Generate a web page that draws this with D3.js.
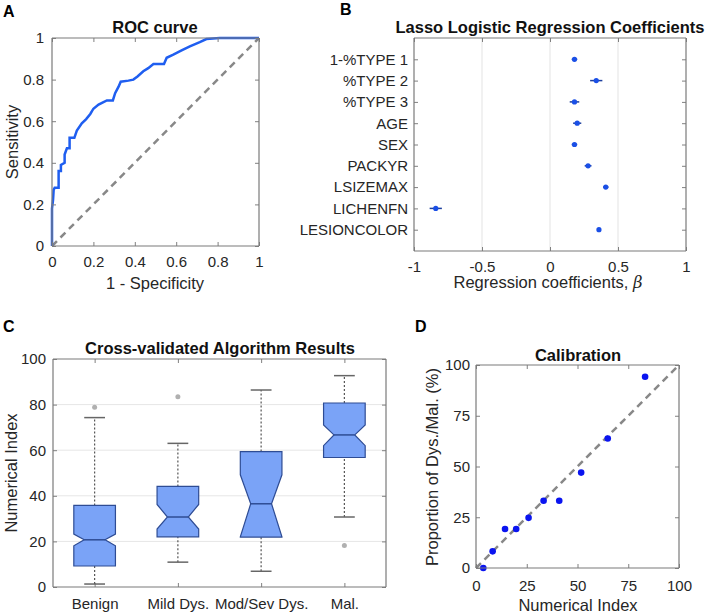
<!DOCTYPE html>
<html>
<head>
<meta charset="utf-8">
<script src="https://cdn.jsdelivr.net/npm/d3@7"></script>
<style>
  body { margin: 0; background: #fff; }
</style>
</head>
<body>
<svg width="709" height="615"></svg>
<script>
// A: ROC curve
const rocFpr = [0, 0, 0.005, 0.008, 0.013, 0.032, 0.032, 0.043, 0.043, 0.061, 0.061, 0.072, 0.085, 0.085, 0.108, 0.12, 0.144, 0.165, 0.185, 0.2, 0.225, 0.265, 0.294, 0.305, 0.321, 0.332, 0.369, 0.393, 0.413, 0.441, 0.465, 0.49, 0.541, 0.554, 0.586, 0.626, 0.666, 0.714, 0.746, 0.81, 1];
const rocTpr = [0, 0.18, 0.22, 0.27, 0.28, 0.28, 0.36, 0.36, 0.39, 0.40, 0.44, 0.47, 0.47, 0.52, 0.52, 0.555, 0.59, 0.61, 0.635, 0.66, 0.68, 0.70, 0.70, 0.735, 0.765, 0.79, 0.795, 0.80, 0.815, 0.84, 0.855, 0.875, 0.875, 0.905, 0.92, 0.94, 0.96, 0.98, 0.995, 1, 1];
const rocTicks = [0, 0.2, 0.4, 0.6, 0.8, 1];

// B: lasso coefficients
const coefNames = ["1-%TYPE 1", "%TYPE 2", "%TYPE 3", "AGE", "SEX", "PACKYR", "LSIZEMAX", "LICHENFN", "LESIONCOLOR"];
const coefValues = [0.18, 0.34, 0.18, 0.20, 0.18, 0.28, 0.41, -0.84, 0.36];
const coefErr = [0.02, 0.045, 0.035, 0.03, 0.02, 0.025, 0.02, 0.045, 0.01];
const coefTicks = [-1, -0.5, 0, 0.5, 1];

// C: box plots
const groups = ["Benign", "Mild Dys.", "Mod/Sev Dys.", "Mal."];
const whiskLo = [1.3, 10.9, 6.9, 30.7];
const q1 = [9.2, 22, 21.9, 56.8];
const notchLo = [18.1, 25.4, 22, 62];
const medians = [20.7, 30.7, 36.5, 66.7];
const notchHi = [23.2, 36.2, 49.2, 71.1];
const q3 = [35.8, 44.1, 59.4, 80.7];
const whiskHi = [74.3, 63, 86.4, 92.7];
const outliers = [[78.8], [83.4], [], [18.2]];
const boxTicks = [0, 20, 40, 60, 80, 100];

// D: calibration
const calX = [3.6, 8.2, 14.3, 19.8, 25.9, 33.3, 41, 51.8, 64.9, 83.3];
const calY = [0, 8.2, 19.2, 19.2, 24.7, 33.1, 33.1, 47, 63.8, 94.2];
const calTicks = [0, 25, 50, 75, 100];

const FONT = "'Liberation Sans', Arial, Helvetica, sans-serif";
const svg = d3.select("svg").attr("font-family", FONT);
const fmt = d => String(d);
const boxes = [];

function styleAxis(sel) {
  sel.attr("font-family", FONT).attr("font-size", 15);
  sel.select(".domain").remove();
  sel.selectAll(".tick line").attr("stroke", "#808080");
  sel.selectAll(".tick text").attr("fill", "#262626");
}

function frame(x, y, xt, yt, xPad, yPad, xLabels, yLabels) {
  const x0 = d3.min(x.range()), x1 = d3.max(x.range());
  const yTop = d3.min(y.range()), yBot = d3.max(y.range());
  const g = svg.append("g");
  g.append("g").attr("transform", `translate(0,${yBot})`)
    .call(d3.axisBottom(x).tickValues(xt).tickSizeInner(-4).tickSizeOuter(0).tickPadding(xPad)
      .tickFormat(xLabels || fmt)).call(styleAxis);
  g.append("g").attr("transform", `translate(0,${yTop})`)
    .call(d3.axisTop(x).tickValues(xt).tickSizeInner(-4).tickSizeOuter(0).tickFormat(() => ""))
    .call(styleAxis);
  g.append("g").attr("transform", `translate(${x0},0)`)
    .call(d3.axisLeft(y).tickValues(yt).tickSizeInner(-4).tickSizeOuter(0).tickPadding(yPad)
      .tickFormat(yLabels || fmt)).call(styleAxis);
  g.append("g").attr("transform", `translate(${x1},0)`)
    .call(d3.axisRight(y).tickValues(yt).tickSizeInner(-4).tickSizeOuter(0).tickFormat(() => ""))
    .call(styleAxis);
  boxes.push([x0, x1, yTop, yBot]);
  return g;
}

function text(x, y, s, opts = {}) {
  const t = svg.append("text").attr("x", x).attr("y", y).text(s)
    .attr("font-family", FONT)
    .attr("font-size", opts.size || 16.5).attr("fill", opts.fill || "#262626")
    .attr("text-anchor", opts.anchor || "middle")
    .attr("font-weight", opts.bold ? "bold" : "normal");
  if (opts.rotate) t.attr("transform", `rotate(-90,${x},${y})`);
  return t;
}

// ---------- Panel A ----------
const xA = d3.scaleLinear().domain([0, 1]).range([52, 259]);
const yA = d3.scaleLinear().domain([0, 1]).range([246, 38]);
svg.append("line").attr("x1", xA(0)).attr("y1", yA(0)).attr("x2", xA(1)).attr("y2", yA(1))
  .attr("stroke", "#888").attr("stroke-width", 2.5).attr("stroke-dasharray", "7,5");
svg.append("path").datum(d3.range(rocFpr.length))
  .attr("d", d3.line().x(i => xA(rocFpr[i])).y(i => yA(rocTpr[i])))
  .attr("fill", "none").attr("stroke", "#1f5ef0").attr("stroke-width", 2.5);
frame(xA, yA, rocTicks, rocTicks, 10, 8);
text(155, 33, "ROC curve", { bold: true, fill: "#111" });
text(155, 289, "1 - Specificity");
text(18, 142, "Sensitivity", { rotate: true });
text(3, 17, "A", { anchor: "start", bold: true, size: 16, fill: "#000" });

// ---------- Panel B ----------
const xB = d3.scaleLinear().domain([-1, 1]).range([414, 686]);
const yB = d3.scaleLinear().domain([0, 10]).range([38, 251]);
svg.append("g").selectAll("line").data([-0.5, 0, 0.5]).join("line")
  .attr("x1", d => xB(d)).attr("x2", d => xB(d)).attr("y1", 38).attr("y2", 251)
  .attr("stroke", "#e3e3e3");
frame(xB, yB, coefTicks, d3.range(1, 10), 10, 6, null, i => coefNames[i - 1]);
const gB = svg.append("g");
gB.selectAll("line.err").data(coefValues).join("line")
  .attr("x1", (d, i) => xB(d - coefErr[i])).attr("x2", (d, i) => xB(d + coefErr[i]))
  .attr("y1", (d, i) => yB(i + 1)).attr("y2", (d, i) => yB(i + 1))
  .attr("stroke", "#1d3f9e").attr("stroke-width", 1.5);
gB.selectAll("circle").data(coefValues).join("circle")
  .attr("cx", d => xB(d)).attr("cy", (d, i) => yB(i + 1)).attr("r", 2.6)
  .attr("fill", "#1a4fe6");
text(550, 33, "Lasso Logistic Regression Coefficients", { bold: true, fill: "#111" });
const lb = text(548, 288, "Regression coefficients, ");
lb.append("tspan").attr("font-family", "DejaVu Serif").attr("font-style", "italic").text("β");
text(340, 15, "B", { anchor: "start", bold: true, size: 16, fill: "#000" });

// ---------- Panel C ----------
const xC = d3.scaleLinear().domain([0.5, 4.5]).range([53, 386]);
const yC = d3.scaleLinear().domain([0, 100]).range([587, 359]);
svg.append("g").selectAll("line").data([20, 40, 60, 80]).join("line")
  .attr("x1", 53).attr("x2", 386).attr("y1", d => yC(d)).attr("y2", d => yC(d))
  .attr("stroke", "#e6e6e6");
frame(xC, yC, [1, 2, 3, 4], boxTicks, 11, 7, i => groups[i - 1]);
const hw = 0.25, nw = 0.125, cw = 0.125;
groups.forEach((gname, i) => {
  const c = i + 1;
  const g = svg.append("g");
  [[whiskLo[i], q1[i]], [q3[i], whiskHi[i]]].forEach(([a, b]) => {
    g.append("line").attr("x1", xC(c)).attr("x2", xC(c)).attr("y1", yC(a)).attr("y2", yC(b))
      .attr("stroke", "#555").attr("stroke-width", 1.2).attr("stroke-dasharray", "2,2");
  });
  [whiskLo[i], whiskHi[i]].forEach(v => {
    g.append("line").attr("x1", xC(c - cw)).attr("x2", xC(c + cw)).attr("y1", yC(v)).attr("y2", yC(v))
      .attr("stroke", "#666").attr("stroke-width", 1.5);
  });
  const pts = [
    [c - hw, q1[i]], [c - hw, notchLo[i]], [c - nw, medians[i]], [c - hw, notchHi[i]], [c - hw, q3[i]],
    [c + hw, q3[i]], [c + hw, notchHi[i]], [c + nw, medians[i]], [c + hw, notchLo[i]], [c + hw, q1[i]]
  ];
  g.append("path").attr("d", d3.line().x(p => xC(p[0])).y(p => yC(p[1]))(pts) + "Z")
    .attr("fill", "#7aa3f7").attr("stroke", "#2e4c94").attr("stroke-width", 1.2);
  g.append("line").attr("x1", xC(c - nw)).attr("x2", xC(c + nw)).attr("y1", yC(medians[i])).attr("y2", yC(medians[i]))
    .attr("stroke", "#2e4c94").attr("stroke-width", 1.5);
  g.selectAll("circle").data(outliers[i]).join("circle")
    .attr("cx", xC(c)).attr("cy", d => yC(d)).attr("r", 2.5).attr("fill", "#b0b0b0");
});
text(220, 354, "Cross-validated Algorithm Results", { bold: true, fill: "#111" });
text(17, 473, "Numerical Index", { rotate: true });
text(3, 332, "C", { anchor: "start", bold: true, size: 16, fill: "#000" });

// ---------- Panel D ----------
const xD = d3.scaleLinear().domain([0, 100]).range([476, 679]);
const yD = d3.scaleLinear().domain([0, 100]).range([568, 365]);
svg.append("line").attr("x1", xD(0)).attr("y1", yD(0)).attr("x2", xD(100)).attr("y2", yD(100))
  .attr("stroke", "#888").attr("stroke-width", 2.5).attr("stroke-dasharray", "7,5");
frame(xD, yD, calTicks, calTicks, 12, 6);
svg.append("g").selectAll("circle").data(calX).join("circle")
  .attr("cx", d => xD(d)).attr("cy", (d, i) => yD(calY[i])).attr("r", 3.3).attr("fill", "#0a14f0");
text(578, 361, "Calibration", { bold: true, fill: "#111" });
text(578, 611, "Numerical Index");
text(438, 467, "Proportion of Dys./Mal. (%)", { rotate: true });
text(415, 332, "D", { anchor: "start", bold: true, size: 16, fill: "#000" });

// axes boxes, drawn last
const gBox = svg.append("g");
boxes.forEach(([x0, x1, yT, yB2]) => {
  [[x0, yT, x1, yT], [x0, yB2, x1, yB2], [x0, yT, x0, yB2], [x1, yT, x1, yB2]].forEach(s => {
    gBox.append("line").attr("x1", s[0]).attr("y1", s[1]).attr("x2", s[2]).attr("y2", s[3])
      .attr("stroke", "#7a7a7a").attr("stroke-width", 1.2);
  });
});
</script>
</body>
</html>
